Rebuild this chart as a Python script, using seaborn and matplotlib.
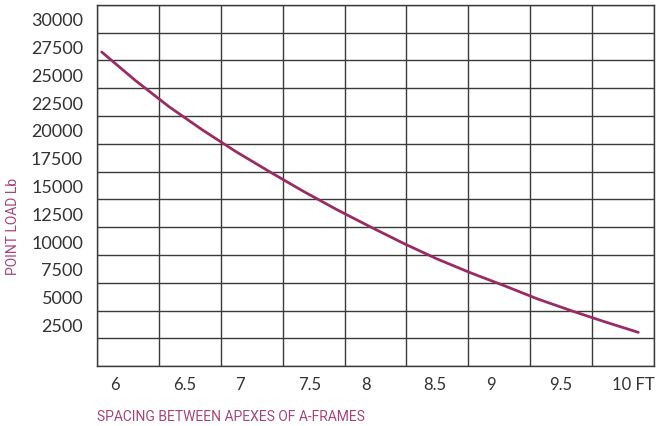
import numpy as np
import pandas as pd
import matplotlib
matplotlib.use('Agg')
import matplotlib.pyplot as plt
import seaborn as sns

# values
spacing = [6.0, 6.25, 6.5, 6.75, 7.0, 7.25, 7.5, 7.75, 8.0,
           8.25, 8.5, 8.75, 9.0, 9.25, 9.5, 9.75, 10.0]
point_load = [27000, 24450, 22100, 20000, 18050, 16250, 14500, 12850, 11300,
              9800, 8400, 7150, 6000, 4800, 3750, 2750, 1800]

x_labels = ['6', '6.5', '7', '7.5', '8', '8.5', '9', '9.5', '10 FT']
y_ticks = [2500, 5000, 7500, 10000, 12500, 15000, 17500, 20000,
           22500, 25000, 27500, 30000]

dados = pd.DataFrame({'spacing': spacing, 'load': point_load})

sns.set_style('white')
plt.rcParams['font.family'] = ['Lato', 'DejaVu Sans']

linha = '#9B2C63'
rosa = '#A8447A'
grade = '#3a3a3a'

fig = plt.figure(figsize=(6.56, 4.27), dpi=100)
ax = fig.add_axes([97 / 656, 1 - 367.3 / 427, 557 / 656, 361.6 / 427])

sns.lineplot(x='spacing', y='load', data=dados, ax=ax, color=linha,
             linewidth=2.0, zorder=3)

# pixel -> data helper for x (6 ft sits at 101.7 px, 10 ft at 638.3 px)
def px2x(px):
    return 6 + (px - 101.7) * 4 / (638.3 - 101.7)

xmin, xmax = px2x(97), px2x(654)
ax.set_xlim(xmin, xmax)
ax.set_ylim(-1250, 31250)

# grid lines on major ticks, labels on minor ticks
ax.set_xticks(np.linspace(xmin, xmax, 10))
ax.set_xticklabels([])
ax.set_xticks([px2x(110 + 62.7 * i) for i in range(len(x_labels))], minor=True)
ax.set_xticklabels(x_labels, minor=True)
for t in ax.get_xticklabels(minor=True):
    t.set_ha('left')

ax.set_yticks(np.arange(-1250, 31251, 2500))
ax.set_yticklabels([])
ax.set_yticks(y_ticks, minor=True)
ax.set_yticklabels([str(v) for v in y_ticks], minor=True)

ax.tick_params(which='both', length=0)
ax.tick_params(axis='x', which='minor', pad=7, labelsize=12, labelcolor='#333333')
ax.tick_params(axis='y', which='minor', pad=10, labelsize=13, labelcolor='#333333')
ax.grid(True, which='major', color=grade, linewidth=1.0)
for s in ax.spines.values():
    s.set_color(grade)
    s.set_linewidth(1.0)

ax.set_xlabel('')
ax.set_ylabel('')
fig.text(97 / 656, 1 - 417 / 427, 'SPACING BETWEEN APEXES OF A-FRAMES',
         color=rosa, fontsize=10, va='center', ha='left',
         family=['Liberation Sans Narrow', 'Roboto'])
fig.text(13 / 656, 1 - 226 / 427, 'POINT LOAD Lb', color=rosa, fontsize=10,
         rotation=90, va='center', ha='center',
         family=['Liberation Sans Narrow', 'Roboto'])

fig.savefig('out.png', dpi=100)
